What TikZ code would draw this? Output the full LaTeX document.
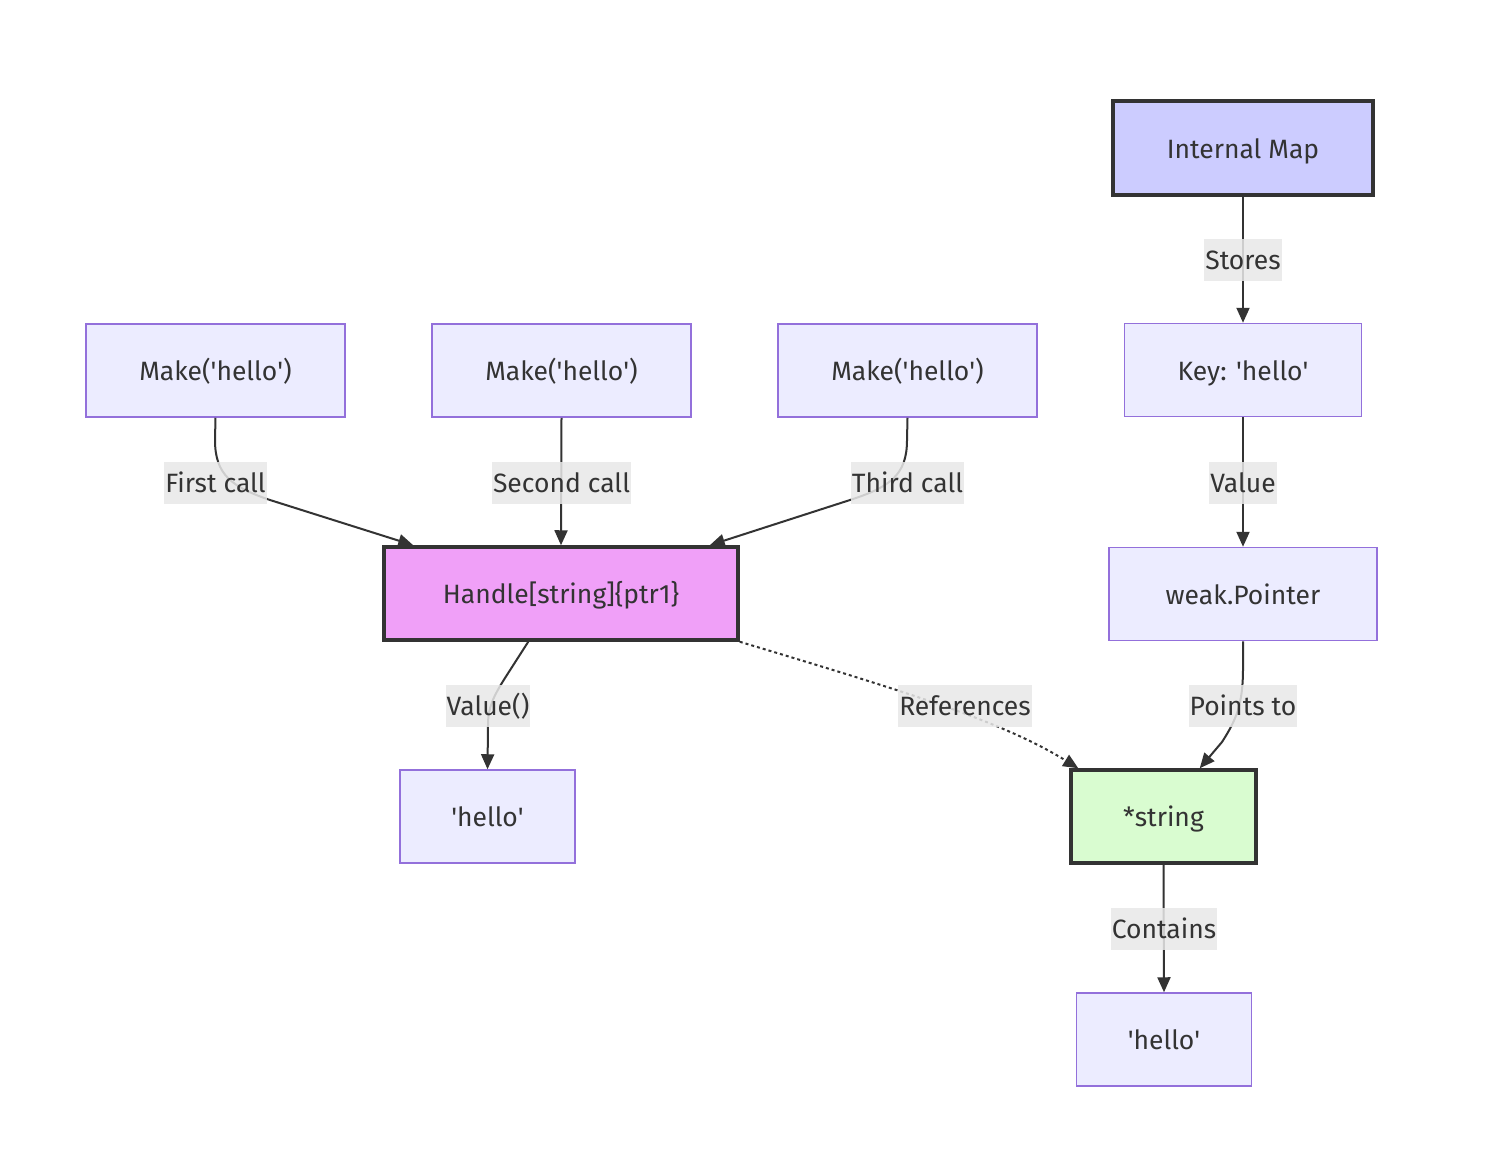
\documentclass[tikz,border=0pt]{standalone}
\usepackage{fontspec}
\setmainfont{Fira Sans}
\usetikzlibrary{arrows.meta,calc}
\definecolor{nodefill}{HTML}{ECECFF}
\definecolor{nodeborder}{HTML}{9370DB}
\definecolor{ink}{HTML}{333333}
\definecolor{mapfill}{HTML}{CCCCFF}
\definecolor{handlefill}{HTML}{F0A0F8}
\definecolor{strfill}{HTML}{D9FCD0}
\definecolor{lblfill}{HTML}{E8E8E8}
\newcommand{\sq}{\textquotesingle}
\begin{document}
\begin{tikzpicture}[x=1pt,y=-1pt,
  box/.style={draw=nodeborder, fill=nodefill, line width=1.5pt, minimum height=93pt,
    inner sep=0pt, text height=20pt, text depth=0pt, text=ink, font=\fontsize{26.5}{30}\selectfont},
  hbox/.style={box, draw=ink, line width=3.5pt},
  lbl/.style={fill=lblfill, fill opacity=0.85, text opacity=1, text=ink, inner xsep=1pt,
    inner ysep=0pt, text height=20pt, text depth=0pt, minimum height=42pt, font=\fontsize{26.5}{30}\selectfont},
  edge/.style={draw=ink, line width=2pt, -{Triangle[length=15pt,width=13pt]}},
]
\path[use as bounding box, fill=white] (0,0) rectangle (1496,1162);

% nodes
\node[hbox, fill=mapfill, minimum width=260pt, minimum height=94pt] (map) at (1243,148) {Internal Map};
\node[box, minimum width=237pt] (key) at (1243,370) {Key: \sq hello\sq};
\node[box, minimum width=268pt] (wp) at (1243,594) {weak.Pointer};
\node[hbox, fill=strfill, minimum width=185pt] (str) at (1163.5,816.5) {*string};
\node[box, minimum width=175pt] (h2) at (1164,1039.5) {\sq hello\sq};
\node[box, minimum width=259pt] (m1) at (215.5,370.5) {Make(\sq hello\sq)};
\node[box, minimum width=259pt] (m2) at (561.5,370.5) {Make(\sq hello\sq)};
\node[box, minimum width=259pt] (m3) at (907.5,370.5) {Make(\sq hello\sq)};
\node[hbox, fill=handlefill, minimum width=354pt] (hd) at (561,593.5) {Handle[string]\{ptr1\}};
\node[box, minimum width=175pt] (h1) at (487.5,816.5) {\sq hello\sq};

% edge end points
\coordinate (e1) at ($(hd.north west)+(31,0)$);
\coordinate (e3) at ($(hd.north east)+(-30,0)$);
\coordinate (sv) at ($(hd.south west)+(146,0)$);
\coordinate (er) at ($(str.north west)+(9,0)$);
\coordinate (ep) at ($(str.north east)+(-58,0)$);

% edges
\draw[edge] (map.south) -- (key.north);
\draw[edge] (key.south) -- (wp.north);
\draw[edge] (m1.south) -- (215,440) .. controls (215,475) and (232,487) .. (270,500) -- (e1);
\draw[edge] (m2.south) -- (hd.north);
\draw[edge] (m3.south) -- (907,440) .. controls (907,475) and (890,487) .. (850,500) -- (e3);
\draw[edge] (sv) -- (505,678) .. controls (493,697) and (488,708) .. (488,725) -- (h1.north);
\draw[edge, dash pattern=on 3pt off 3pt] (hd.south east) .. controls (900,690) and (1000,720) .. (er);
\draw[edge] (wp.south) -- (1243,668) .. controls (1243,705) and (1236,720) .. (1222,742) -- (ep);
\draw[edge] (str.south) -- (h2.north);

% labels
\node[lbl] (l1) at (1243,259.5) {Stores};
\node[lbl] (l2) at (1243,482.5) {Value};
\node[lbl] (l3) at (215.5,482.5) {First call};
\node[lbl] (l4) at (561.5,482.5) {Second call};
\node[lbl] (l5) at (907.5,482.5) {Third call};
\node[lbl] (l6) at (488,705.5) {Value()};
\node[lbl] (l7) at (965,705.5) {References};
\node[lbl] (l8) at (1243,705.5) {Points to};
\node[lbl] (l9) at (1164,928.5) {Contains};
\end{tikzpicture}
\end{document}
